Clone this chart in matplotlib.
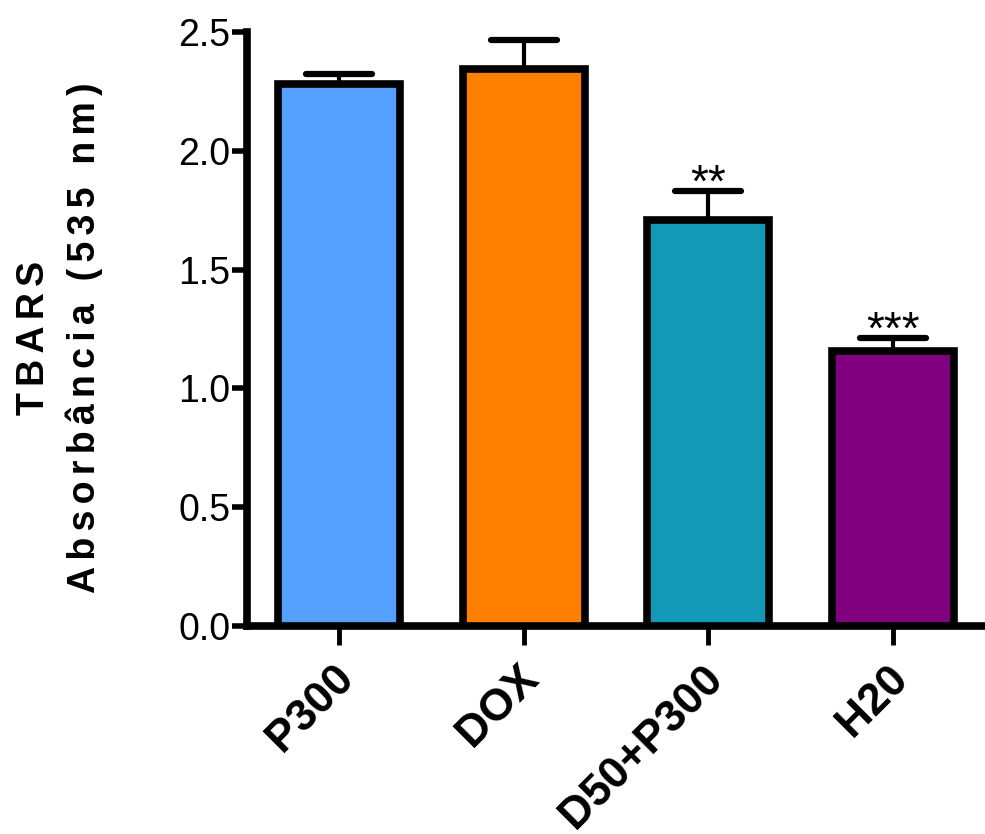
import numpy as np
import matplotlib
matplotlib.use('Agg')
import matplotlib.pyplot as plt

plt.rcParams.update({
    'font.family': ['Liberation Sans', 'DejaVu Sans'],
    'figure.dpi': 100,
})

groups = ['P300', 'DOX', 'D50+P300', 'H20']
means = [2.28, 2.345, 1.71, 1.157]
sems = [0.045, 0.12, 0.12, 0.055]
stars = ['', '', '**', '***']
bar_cols = ['#55A0FF', '#FF8000', '#1199B5', '#800080']

lw = 5.5

fig = plt.figure(figsize=(9.85, 8.34))
ax = fig.add_axes([0.2508, 0.2494, 0.7492, 0.7122])

pos = np.arange(len(groups))
ax.bar(pos, means, width=0.66, color=bar_cols, edgecolor='black', linewidth=lw, zorder=3)

# upper-only error bars with rounded caps
tops = np.array(means) + np.array(sems)
ax.vlines(pos, means, tops, color='black', linewidth=3, zorder=2)
ax.hlines(tops, pos - 0.18, pos + 0.18, color='black', linewidth=4.5, capstyle='round', zorder=2)

for p, t, s in zip(pos, tops, stars):
    if s:
        ax.annotate(s, (p, t), xytext=(0, -11), textcoords='offset points',
                    ha='center', va='bottom', fontsize=33)

ax.set_xlim(-0.5, 3.5)
ax.set_ylim(0, 2.5)
ax.set_yticks([0.0, 0.5, 1.0, 1.5, 2.0, 2.5])
ax.set_yticklabels(['0.0', '0.5', '1.0', '1.5', '2.0', '2.5'], fontsize=27)
ax.set_xticks(pos)
ax.set_xticklabels([])

# rotated group labels, placed below each tick
for p, g in zip(pos, groups):
    ax.annotate(g, (p, 0), xycoords=('data', 'axes fraction'), xytext=(6, -33),
                textcoords='offset points', rotation=45, ha='right', va='center',
                rotation_mode='anchor', fontsize=32, fontweight='bold')

for side in ['top', 'right']:
    ax.spines[side].set_visible(False)
for side in ['left', 'bottom']:
    ax.spines[side].set_linewidth(lw)
    ax.spines[side].set_capstyle('projecting')

ax.tick_params(axis='y', length=11, width=4, pad=1)
ax.tick_params(axis='x', length=14, width=3.5)

hs = '\u200a\u200a'
line1 = hs.join('TBARS')
line2 = hs.join('Absorbância (535 nm)')
ax.set_ylabel(line1 + '\n' + line2, fontsize=27, fontweight='bold',
              labelpad=50, linespacing=1.45)
ax.yaxis.set_label_coords(-0.195, 0.485)

fig.savefig('out.png', dpi=100)
